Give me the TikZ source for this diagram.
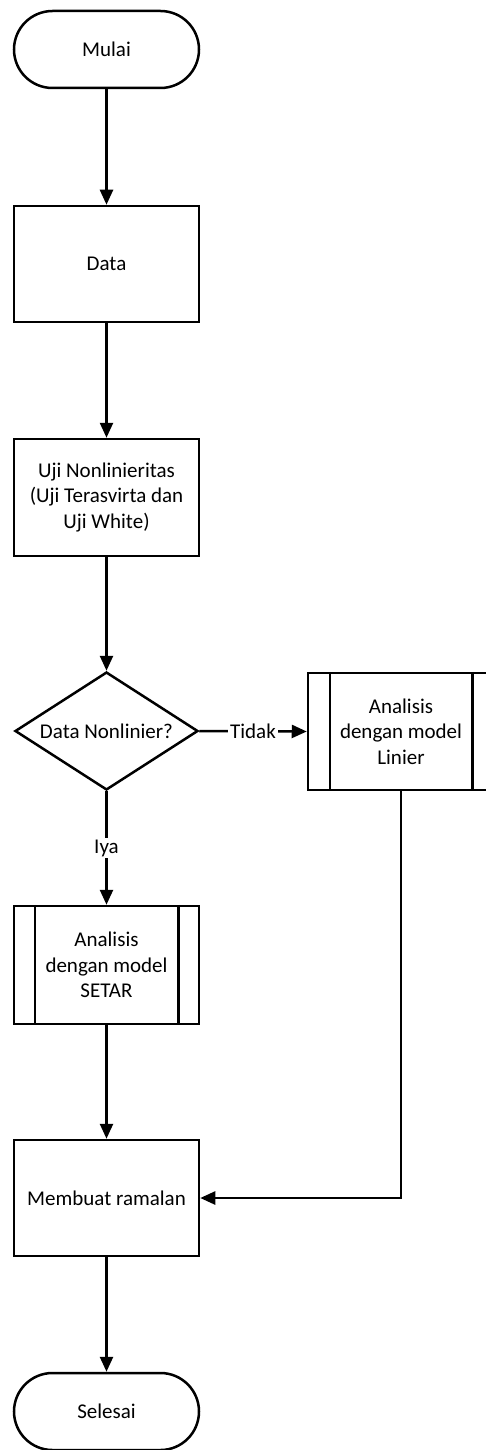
\documentclass[tikz,border=0pt]{standalone}
\usepackage{fontspec}
\setmainfont{Carlito}
\usetikzlibrary{shapes.geometric,arrows.meta}
\begin{document}
\begin{tikzpicture}[x=1pt,y=-1pt,
  every node/.style={font=\fontsize{21}{25.5}\selectfont, align=center, inner sep=0pt},
  box/.style={draw, line width=2.5pt, minimum width=185pt, minimum height=117pt},
  term/.style={draw, line width=2.5pt, minimum width=185pt, minimum height=77pt, rounded corners=38.5pt},
  decision/.style={draw, diamond, line width=2.5pt, minimum width=183pt, minimum height=118pt, aspect=1.55},
  conn/.style={line width=2.5pt, -{Triangle[length=15pt,width=13pt]}},
  plain/.style={line width=2.5pt},
  lbl/.style={fill=white, inner sep=2pt}
]
\useasboundingbox (0,0) rectangle (485,1450);

\node[term] (mulai) at (106.5,49.5) {Mulai};
\node[box, minimum height=116pt] (data) at (106.5,264) {Data};
\node[box] (uji) at (106.5,497.5) {Uji Nonlinieritas\\(Uji Terasvirta dan\\Uji White)};
\node[decision] (dec) at (106.5,731) {Data Nonlinier?};
\node[box, minimum width=186pt] (lin) at (401,731.5) {Analisis\\dengan model\\Linier};
\draw[plain] ([xshift=23pt]lin.north west) -- ([xshift=23pt]lin.south west);
\draw[plain] ([xshift=-23pt]lin.north east) -- ([xshift=-23pt]lin.south east);
\node[box, minimum height=118pt] (setar) at (106.5,965) {Analisis\\dengan model\\SETAR};
\draw[plain] ([xshift=22pt]setar.north west) -- ([xshift=22pt]setar.south west);
\draw[plain] ([xshift=-22pt]setar.north east) -- ([xshift=-22pt]setar.south east);
\node[box, minimum height=116pt] (buat) at (106.5,1198) {Membuat ramalan};
\node[term] (selesai) at (106.5,1411.5) {Selesai};

\draw[conn] (mulai.south) -- (data.north);
\draw[conn] (data.south) -- (uji.north);
\draw[conn] (uji.south) -- (dec.north);
\draw[conn] (dec.east) -- node[lbl] {Tidak} (lin.west);
\draw[conn] (dec.south) -- node[lbl] {Iya} (setar.north);
\draw[conn] (setar.south) -- (buat.north);
\draw[conn] (lin.south) |- (buat.east);
\draw[conn] (buat.south) -- (selesai.north);
\end{tikzpicture}
\end{document}
